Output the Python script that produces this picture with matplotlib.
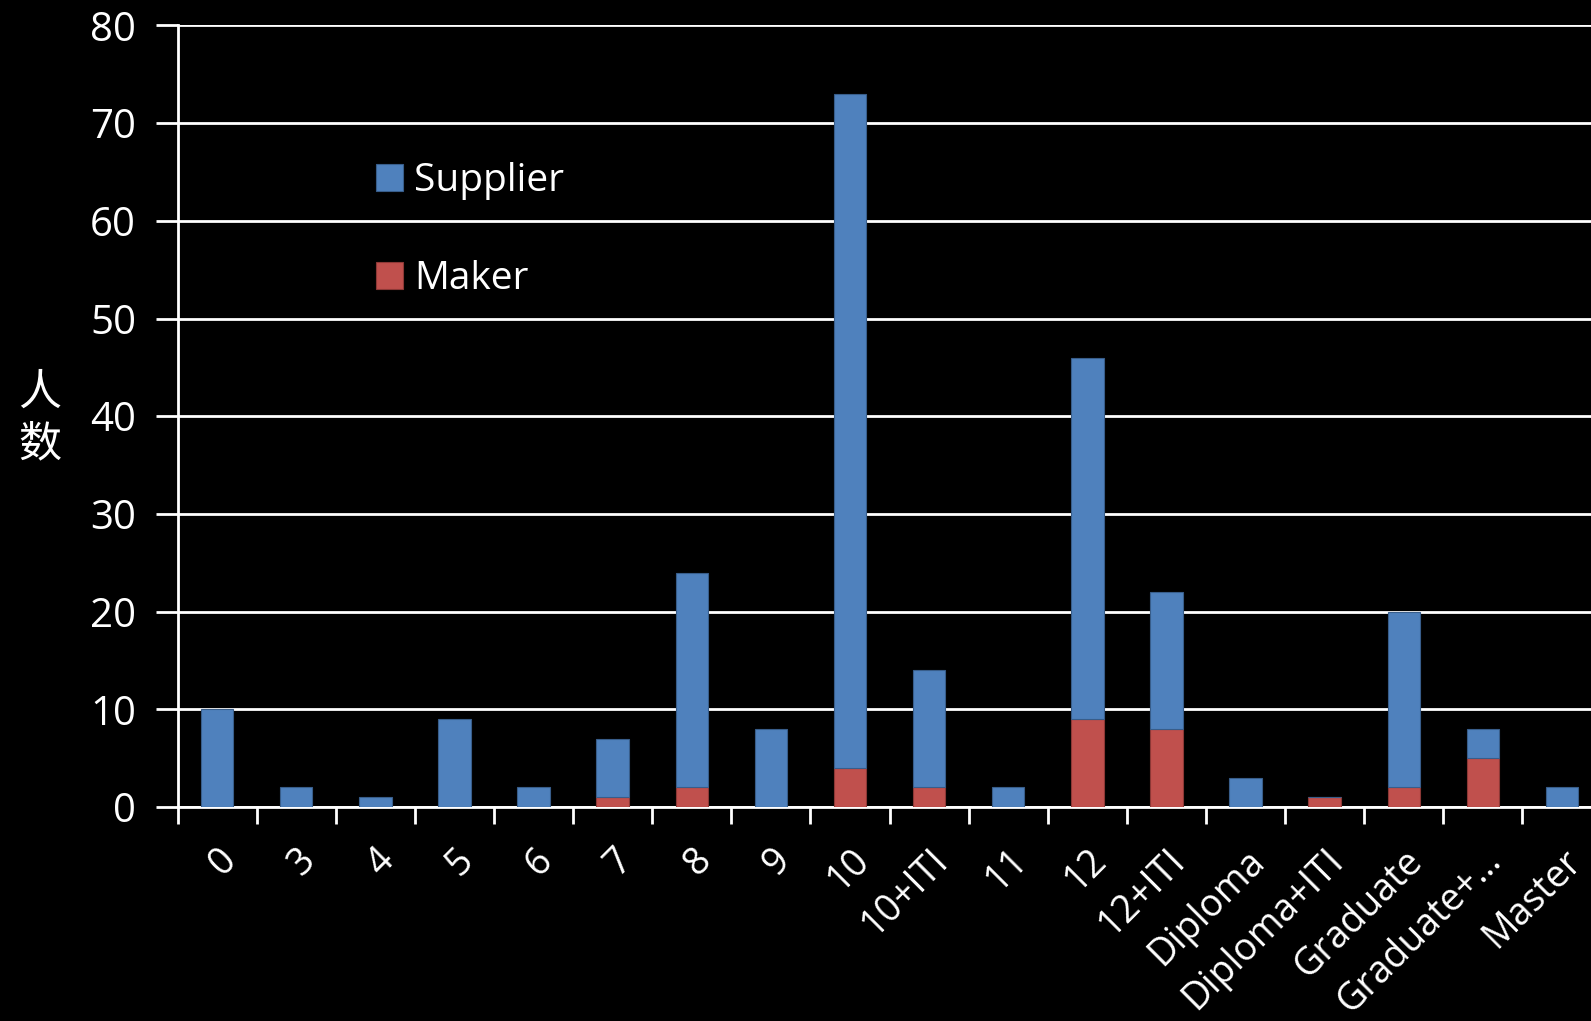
import numpy as np
import matplotlib.pyplot as plt

categories = ['0', '3', '4', '5', '6', '7', '8', '9', '10', '10+ITI', '11', '12',
              '12+ITI', 'Diploma', 'Diploma+ITI', 'Graduate', 'Graduate+…', 'Master']
maker = [0, 0, 0, 0, 0, 1, 2, 0, 4, 2, 0, 9, 8, 0, 1, 2, 5, 0]
supplier = [10, 2, 1, 9, 2, 6, 22, 8, 69, 12, 2, 37, 14, 3, 0, 18, 3, 2]

plt.rcParams['font.family'] = ['Open Sans', 'Noto Sans CJK SC', 'DejaVu Sans']

fig = plt.figure(figsize=(15.91, 10.21), dpi=100, facecolor='black')
ax = fig.add_axes([0.1116, 0.2096, 0.895, 0.7655], facecolor='black')

x = np.arange(len(categories))
ax.bar(x, maker, width=0.41, color='#C0504D', edgecolor='#8c3836', linewidth=0.8, label='Maker', zorder=3)
ax.bar(x, supplier, width=0.41, bottom=maker, color='#4F81BD', edgecolor='#385d8a', linewidth=0.8,
       label='Supplier', zorder=3)

ax.set_xlim(-0.5, len(categories) - 0.5)
ax.set_ylim(0, 80)
ax.set_yticks(range(0, 81, 10))
ax.yaxis.grid(True, color='white', linewidth=2, zorder=1)

ax.set_xticks(x)
ax.set_xticklabels(categories, rotation=45, ha='right', rotation_mode='anchor', fontsize=27, color='white')
ax.tick_params(axis='x', which='major', length=0, pad=25)
ax.set_xticks(np.arange(-0.5, len(categories), 1), minor=True)
ax.tick_params(axis='x', which='minor', length=12, width=2, color='white', direction='out')
ax.tick_params(axis='y', length=16, width=2, color='white', labelsize=29, labelcolor='white', pad=14)

for s in ['top', 'right']:
    ax.spines[s].set_visible(False)
ax.spines['left'].set_color('white')
ax.spines['left'].set_linewidth(2)
ax.spines['bottom'].set_color('white')
ax.spines['bottom'].set_linewidth(2)

fig.text(0.025, 0.59, '人\n数', color='white', fontsize=31, ha='center', va='center',
         linespacing=1.2, family=['Noto Sans CJK SC', 'DejaVu Sans'])

handles, labels = ax.get_legend_handles_labels()
leg = ax.legend(handles[::-1], labels[::-1], loc='upper left', bbox_to_anchor=(0.115, 0.87),
                frameon=False, fontsize=28, labelcolor='white', handlelength=0.68, handleheight=0.68,
                labelspacing=1.55, handletextpad=0.3)

plt.savefig('out.png', facecolor='black')
